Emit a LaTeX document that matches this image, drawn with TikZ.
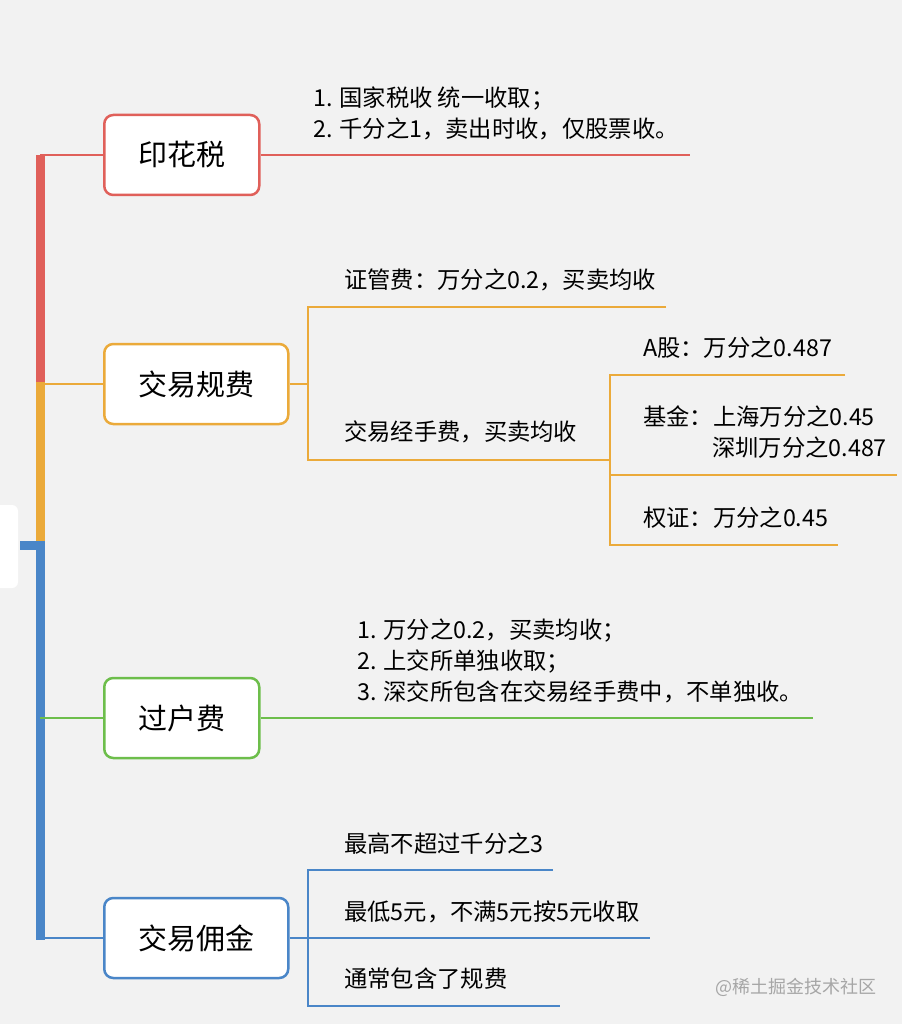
\documentclass[tikz,border=0pt]{standalone}
\usepackage{fontspec}
\newfontfamily\cjk{Noto Sans CJK SC}
\definecolor{cr}{HTML}{E0605A}
\definecolor{co}{HTML}{EBAA3A}
\definecolor{cg}{HTML}{6DBE4B}
\definecolor{cb}{HTML}{4A86C8}
\definecolor{bg}{HTML}{F2F2F2}
\begin{document}
\begin{tikzpicture}[x=1pt,y=-1pt,
  box/.style={draw,line width=2.5pt,rounded corners=9pt,fill=white,minimum height=80pt,anchor=west,font=\cjk\fontsize{29}{32}\selectfont,inner xsep=0pt},
  lbl/.style={anchor=west,font=\cjk\fontsize{23.3}{31}\selectfont,inner sep=0pt,align=left},
  ln/.style={line width=2.5pt}]
\fill[bg] (0,0) rectangle (902,1024);
\useasboundingbox (0,0) rectangle (902,1024);
\fill[white,rounded corners=6pt] (-10,505) rectangle (18,588);
% trunk
\draw[cr,line width=9pt] (40,155) -- (40,382);
\draw[co,line width=9pt] (40,382) -- (40,545);
\draw[cb,line width=9pt] (40,545) -- (40,940);
\draw[cb,line width=9pt] (20,545) -- (44.5,545);
% boxes
\node[box,draw=cr,minimum width=155pt] (b1) at (103,155) {印花税};
\node[box,draw=co,minimum width=184pt] (b2) at (103,384) {交易规费};
\node[box,draw=cg,minimum width=155pt] (b3) at (103,718) {过户费};
\node[box,draw=cb,minimum width=184pt] (b4) at (103,938) {交易佣金};
\coordinate (t1) at (40,155); \coordinate (t2) at (40,384);
\coordinate (t3) at (40,718); \coordinate (t4) at (40,938);
\draw[ln,cr] (t1) -- (b1.west); \draw[ln,co] (t2) -- (b2.west);
\draw[ln,cg] (t3) -- (b3.west); \draw[ln,cb] (t4) -- (b4.west);
% red
\coordinate (r1) at (690,155);
\draw[ln,cr] (b1.east) -- (r1);
\node[lbl] (tr) at (313,113) {1. 国家税收 统一收取；\\2. 千分之1，卖出时收，仅股票收。};
% orange
\coordinate (o0) at (308,384); \coordinate (oa) at (308,307); \coordinate (ob) at (308,460);
\coordinate (oa2) at (666,307); \coordinate (ob2) at (610,460);
\draw[ln,co] (b2.east) -- (o0);
\draw[ln,co] (oa2) -- (oa) -- (ob) -- (ob2);
\node[lbl] (to1) at (344,280) {证管费：万分之0.2，买卖均收};
\node[lbl] (to2) at (344,432) {交易经手费，买卖均收};
\coordinate (p1) at (610,375); \coordinate (p2) at (610,475); \coordinate (p3) at (610,545);
\coordinate (q1) at (845,375); \coordinate (q2) at (897,475); \coordinate (q3) at (838,545);
\draw[ln,co] (q1) -- (p1) -- (p3) -- (q3);
\draw[ln,co] (p2) -- (q2);
\node[lbl] (ta) at (643,348) {A股：万分之0.487};
\node[lbl] (tb) at (643,417) {基金：上海万分之0.45};
\node[lbl] (tb2) at (712,448) {深圳万分之0.487};
\node[lbl] (tc) at (643,518) {权证：万分之0.45};
% green
\coordinate (g1) at (813,718);
\draw[ln,cg] (b3.east) -- (g1);
\node[lbl] (tg) at (357,661) {1. 万分之0.2，买卖均收；\\2. 上交所单独收取；\\3. 深交所包含在交易经手费中，不单独收。};
% blue
\coordinate (u0) at (308,938); \coordinate (ua) at (308,870); \coordinate (ub) at (308,1006);
\coordinate (ua2) at (553,870); \coordinate (uc2) at (650,938); \coordinate (ub2) at (560,1006);
\draw[ln,cb] (b4.east) -- (u0);
\draw[ln,cb] (ua2) -- (ua) -- (ub) -- (ub2);
\draw[ln,cb] (u0) -- (uc2);
\node[lbl] (tu1) at (344,844) {最高不超过千分之3};
\node[lbl] (tu2) at (344,912) {最低5元，不满5元按5元收取};
\node[lbl] (tu3) at (344,979) {通常包含了规费};
\node[anchor=west,inner sep=0pt,text=gray!70,font=\cjk\fontsize{18}{20}\selectfont] (wm) at (715,987) {@稀土掘金技术社区};
\end{tikzpicture}
\end{document}
